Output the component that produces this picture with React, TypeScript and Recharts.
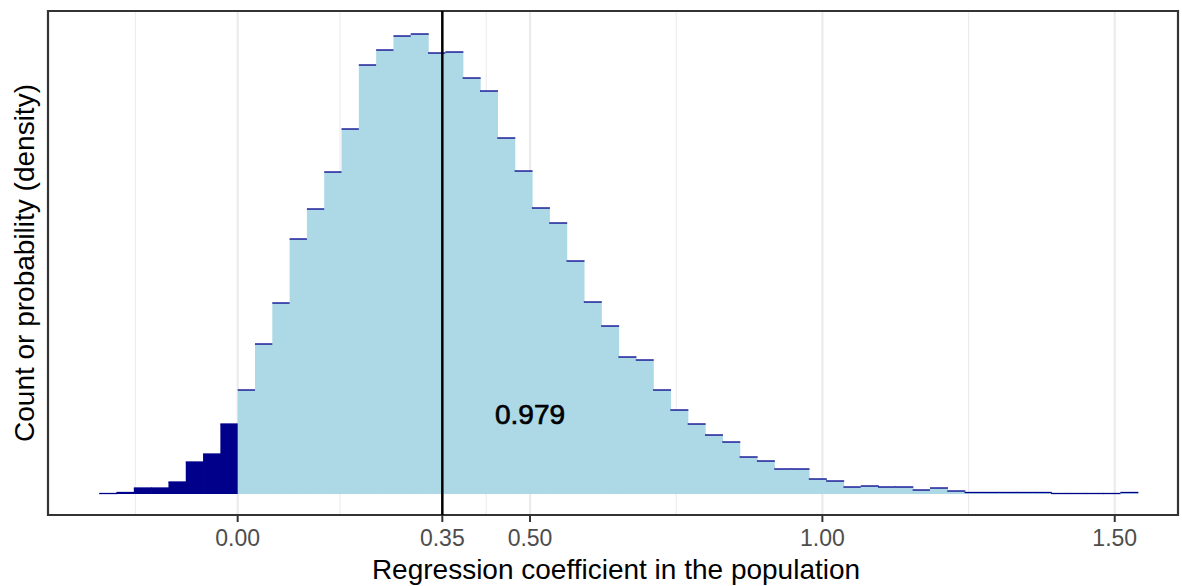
import {
  Bar,
  CartesianGrid,
  ComposedChart,
  Label,
  ReferenceArea,
  ReferenceDot,
  ReferenceLine,
  XAxis,
  YAxis,
} from 'recharts'

// histogram bins: left edge of the first bin and the common bin width
const binStart = -0.2368
const binWidth = 0.0296

// bar heights (density, arbitrary units) from left to right, 60 bins
const density = [
  0.5, 1.5, 6, 6, 12, 32, 40, 70,
  104, 150, 191, 255, 285, 322, 365, 429, 444, 458,
  460, 441, 442, 416, 403, 356, 323, 286, 271, 233,
  192, 168, 137, 134, 104, 84, 70, 59, 52, 37,
  33, 25, 25, 15, 13, 7, 8, 7, 7, 4,
  6, 3, 1.5, 1.5, 1.5, 1.5, 1.5, 0.5, 0.5, 0.5,
  0.5, 1.5,
]

const xDomain = [-0.3244, 1.6082]
const yDomain = [-21, 483]
const xTicks = [0, 0.35, 0.5, 1, 1.5]
const majorGrid = [0, 0.35, 0.5, 1, 1.5]
const minorGrid = [-0.175, 0.175, 0.425, 0.75, 1.25]

const observed = 0.35
const annotation = { x: 0.5, y: 80, text: '0.979' }

const bins = density.map((d, i) => ({
  mid: Number((binStart + (i + 0.5) * binWidth).toFixed(4)),
  density: d,
}))

const LIGHT = '#ADD8E6'
const DARK = '#00008B'
const FONT = '"Liberation Sans", Arial, Helvetica, sans-serif'

interface ShapeProps {
  x?: number
  y?: number
  width?: number
  height?: number
  payload?: { mid: number }
}

function HistBar({ x = 0, y = 0, width = 0, height = 0, payload }: ShapeProps) {
  const fill = payload && payload.mid < 0 ? DARK : LIGHT
  // overlap neighbours a little so no hairline gaps show between bins
  const w = width + 1
  return (
    <g>
      <rect x={x} y={y} width={w} height={Math.max(height, 0)} fill={fill} />
      <line x1={x} x2={x + w} y1={y} y2={y} stroke={DARK} strokeWidth={1.3} />
    </g>
  )
}

export default function App() {
  return (
    <div style={{ position: 'absolute', left: 0, top: 0, background: '#fff' }}>
      <ComposedChart
        width={1182}
        height={586}
        data={bins}
        barCategoryGap={0}
        barGap={0}
        margin={{ top: 11, right: 4, bottom: 0, left: 0 }}
        style={{ fontFamily: FONT }}
      >
        <CartesianGrid
          horizontal={false}
          verticalValues={minorGrid}
          stroke="#EBEBEB"
          strokeWidth={1.1}
        />
        <CartesianGrid
          horizontal={false}
          verticalValues={majorGrid}
          stroke="#EBEBEB"
          strokeWidth={2.2}
        />
        <XAxis
          dataKey="mid"
          type="number"
          domain={xDomain}
          allowDataOverflow
          ticks={xTicks}
          tickFormatter={(v: number) => v.toFixed(2)}
          height={71}
          axisLine={false}
          tickSize={7}
          tickMargin={8}
          tickLine={{ stroke: '#333333', strokeWidth: 2 }}
          tick={{ fontSize: 23, fill: '#4D4D4D' }}
        >
          <Label
            value="Regression coefficient in the population"
            position="insideBottom"
            offset={7}
            dx={3}
            style={{ fontSize: 28, fill: '#000' }}
          />
        </XAxis>
        <YAxis
          type="number"
          domain={yDomain}
          allowDataOverflow
          width={48}
          tick={false}
          tickLine={false}
          axisLine={false}
        >
          <Label
            value="Count or probability (density)"
            angle={-90}
            position="center"
            style={{ fontSize: 28, fill: '#000' }}
          />
        </YAxis>
        <Bar
          dataKey="density"
          isAnimationActive={false}
          shape={(p: ShapeProps) => <HistBar {...p} />}
        />
        <ReferenceLine x={observed} stroke="#000" strokeWidth={2.5} />
        <ReferenceDot
          x={annotation.x}
          y={annotation.y}
          r={0}
          fill="none"
          stroke="none"
          label={{
            value: annotation.text,
            position: 'center',
            fontSize: 28,
            fill: '#000',
            style: { stroke: '#000', strokeWidth: 0.7 },
          }}
        />
        <ReferenceArea
          x1={xDomain[0]}
          x2={xDomain[1]}
          y1={yDomain[0]}
          y2={yDomain[1]}
          ifOverflow="visible"
          fill="none"
          fillOpacity={0}
          stroke="#333333"
          strokeWidth={2.2}
        />
      </ComposedChart>
    </div>
  )
}
